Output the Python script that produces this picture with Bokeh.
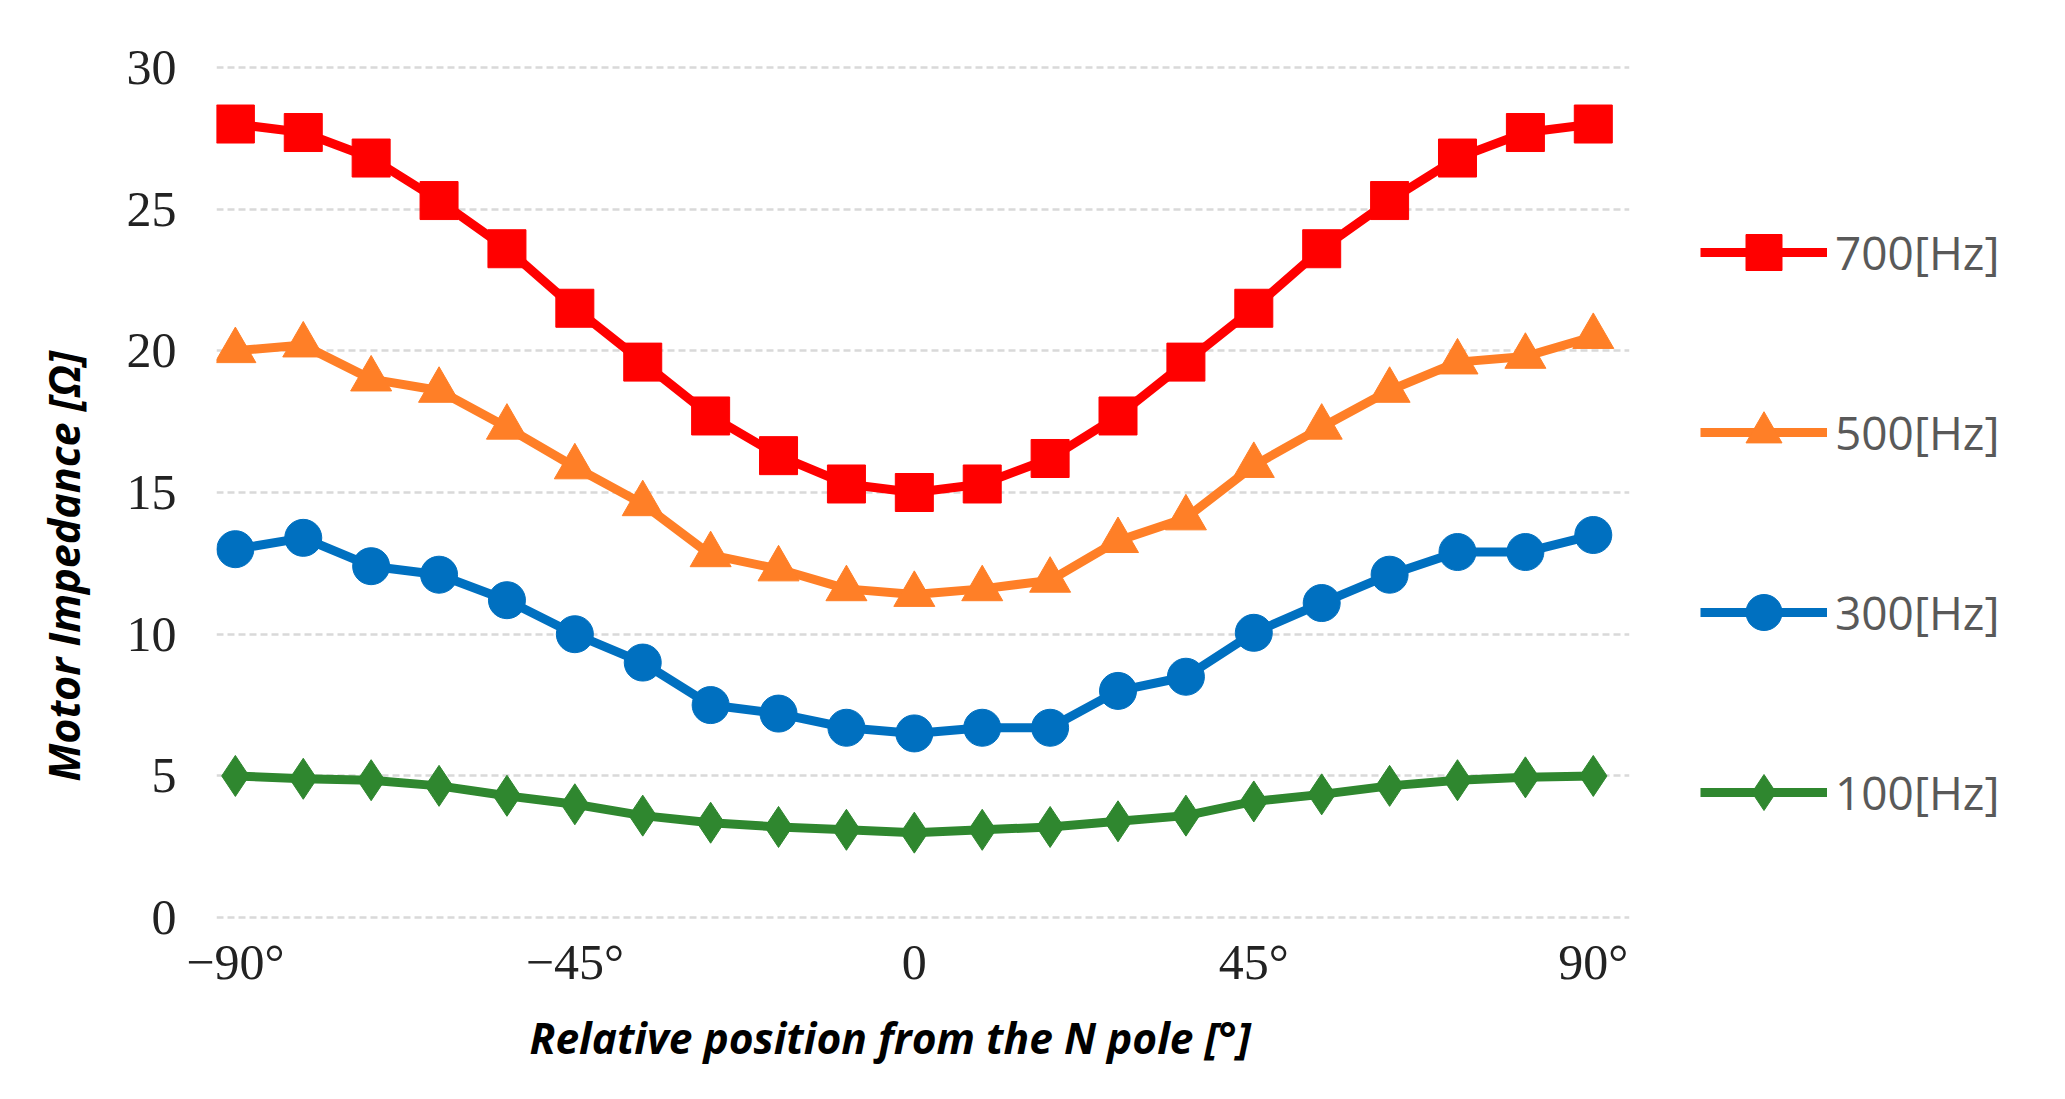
from bokeh.plotting import figure
from bokeh.models import FixedTicker, Legend, LegendItem, Title, ColumnDataSource
from bokeh.embed import file_html
from bokeh.resources import INLINE

# ---------------- data ----------------
angles = [-90, -81, -72, -63, -54, -45, -36, -27, -18, -9, 0,
          9, 18, 27, 36, 45, 54, 63, 72, 81, 90]
z_700 = [28.0, 27.7, 26.8, 25.3, 23.6, 21.5, 19.6, 17.7, 16.3, 15.3, 15.0,
         15.3, 16.2, 17.7, 19.6, 21.5, 23.6, 25.3, 26.8, 27.7, 28.0]
z_500 = [20.0, 20.2, 19.0, 18.6, 17.3, 15.9, 14.6, 12.8, 12.3, 11.6, 11.4,
         11.6, 11.9, 13.3, 14.1, 15.95, 17.3, 18.6, 19.6, 19.8, 20.5]
z_300 = [13.0, 13.4, 12.4, 12.1, 11.2, 10.0, 9.0, 7.5, 7.2, 6.7, 6.5,
         6.7, 6.7, 8.0, 8.5, 10.05, 11.1, 12.1, 12.9, 12.9, 13.5]
z_100 = [5.0, 4.9, 4.85, 4.65, 4.3, 4.0, 3.6, 3.35, 3.2, 3.1, 3.0,
         3.1, 3.2, 3.4, 3.6, 4.1, 4.35, 4.65, 4.85, 4.95, 5.0]
series_labels = ["700[Hz]", "500[Hz]", "300[Hz]", "100[Hz]"]
y_ticks = [0, 5, 10, 15, 20, 25, 30]
x_ticks = [-90, -45, 0, 45, 90]
x_tick_labels = ["\u221290\u00b0", "\u221245\u00b0", "0", "45\u00b0", "90\u00b0"]

# ---------------- styles ----------------
colors = ["#FF0000", "#FF7F27", "#0070C0", "#2F872F"]
markers = ["square", "triangle", "circle", "diamond"]
msizes = [38, 41, 37, 41]
values = [z_700, z_500, z_300, z_100]

p = figure(frame_width=1413, frame_height=856,
           min_border_left=213, min_border_right=423,
           min_border_top=64, min_border_bottom=163,
           x_range=(-92.5, 94.8), y_range=(-0.1, 30.1),
           output_backend="svg", toolbar_location=None)

p.outline_line_color = None
p.background_fill_color = "white"
p.xgrid.visible = False
p.ygrid.grid_line_color = "#D9D9D9"
p.ygrid.grid_line_dash = "7 4"
p.ygrid.grid_line_width = 2.5

p.yaxis.ticker = FixedTicker(ticks=y_ticks)
p.xaxis.ticker = FixedTicker(ticks=x_ticks)
p.xaxis.major_label_overrides = {t: l for t, l in zip(x_ticks, x_tick_labels)}
for ax in (p.xaxis, p.yaxis):
    ax.axis_line_color = None
    ax.major_tick_line_color = None
    ax.minor_tick_line_color = None
    ax.major_tick_out = 0
    ax.major_tick_in = 0
    ax.major_label_text_font = "Liberation Serif"
    ax.major_label_text_font_size = "50px"
    ax.major_label_text_color = "#222222"
p.yaxis.major_label_standoff = 40
p.xaxis.major_label_standoff = 13

items = []
for lab, col, mk, ms, vals in zip(series_labels, colors, markers, msizes, values):
    src = ColumnDataSource(dict(x=angles, y=vals))
    lr = p.line("x", "y", source=src, line_color=col, line_width=9)
    sr = p.scatter("x", "y", source=src, marker=mk, size=ms,
                   fill_color=col, line_color=col)
    items.append(LegendItem(label=lab, renderers=[lr, sr]))

legend = Legend(items=items, location=(71, 83), orientation="vertical",
                glyph_width=127, glyph_height=90, label_height=90,
                spacing=90, padding=0, margin=0, label_standoff=8,
                border_line_color=None, background_fill_alpha=0,
                label_text_font="Open Sans", label_text_font_size="46px",
                label_text_color="#595959", label_text_baseline="middle")
p.add_layout(legend, "right")

yt = Title(text="Motor Impedance [\u03a9]", align="left", offset=139, standoff=62,
           text_font="Open Sans", text_font_style="bold italic",
           text_font_size="43px", text_color="#000000")
p.add_layout(yt, "left")

xt = Title(text="Relative position from the N pole [\u00b0]", align="left",
           offset=313, standoff=29,
           text_font="Open Sans", text_font_style="bold italic",
           text_font_size="42.5px", text_color="#000000")
p.add_layout(xt, "below")

open("out.html", "w").write(file_html(p, INLINE))
